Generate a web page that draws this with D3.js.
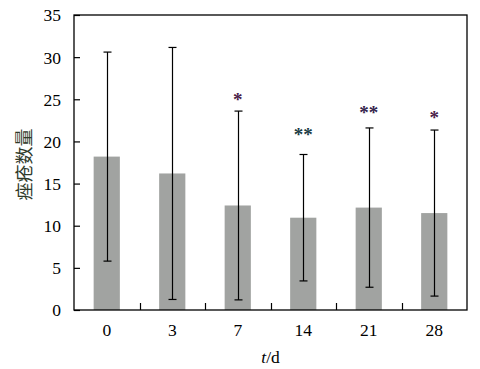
<!DOCTYPE html>
<html>
<head>
<meta charset="utf-8">
<script src="https://cdn.jsdelivr.net/npm/d3@7"></script>
<style>
  html, body { margin: 0; padding: 0; background: #fff; }
  svg { display: block; }
</style>
</head>
<body>
<svg id="chart" width="480" height="369"></svg>
<script>
// ---- data ----
const categories = ["0", "3", "7", "14", "21", "28"];
const means = [18.2, 16.2, 12.4, 10.95, 12.15, 11.5];
const sds = [12.4, 14.95, 11.2, 7.5, 9.45, 9.85];
const sigLabels = ["", "", "*", "**", "**", "*"];
const sigY = [null, null, 25.4, 21.2, 23.8, 23.2];
const sigColors = ["#000", "#000", "#4a1c48", "#1a3c45", "#34244c", "#4a1c48"];
const yTicks = [0, 5, 10, 15, 20, 25, 30, 35];
const yLabel = "痤疮数量";

// ---- layout ----
const svg = d3.select("#chart");
const m = { left: 74, right: 13, top: 15, bottom: 59 };
const W = 480, H = 369;
const x0 = m.left, x1 = W - m.right, yTop = m.top, yBot = H - m.bottom;

const x = d3.scaleBand().domain(categories).range([x0, x1]).paddingInner(0).paddingOuter(0);
const y = d3.scaleLinear().domain([0, 35]).range([yBot, yTop]);
const barW = x.bandwidth() * 0.4;
const font = "'Liberation Serif', 'Times New Roman', serif";

// bars
svg.append("g").selectAll("rect").data(categories).join("rect")
  .attr("x", (d) => x(d) + x.bandwidth() / 2 - barW / 2)
  .attr("y", (d, i) => y(means[i]))
  .attr("width", barW)
  .attr("height", (d, i) => y(0) - y(means[i]))
  .attr("fill", "#a1a3a1");

// error bars
const eb = svg.append("g").attr("stroke", "#000").attr("stroke-width", 1.2);
categories.forEach((c, i) => {
  const cx = Math.round(x(c) + x.bandwidth() / 2) + 0.5;
  const hi = y(means[i] + sds[i]), lo = y(means[i] - sds[i]);
  eb.append("line").attr("x1", cx).attr("x2", cx).attr("y1", hi).attr("y2", lo);
  eb.append("line").attr("x1", cx - 4).attr("x2", cx + 4).attr("y1", hi).attr("y2", hi);
  eb.append("line").attr("x1", cx - 4).attr("x2", cx + 4).attr("y1", lo).attr("y2", lo);
});

// significance stars
svg.append("g").selectAll("text").data(categories).join("text")
  .attr("x", (d) => x(d) + x.bandwidth() / 2)
  .attr("y", (d, i) => sigY[i] == null ? 0 : y(sigY[i]) + 10)
  .attr("text-anchor", "middle")
  .attr("font-family", font)
  .attr("font-size", 19)
  .attr("font-weight", "bold")
  .attr("fill", (d, i) => sigColors[i])
  .text((d, i) => sigLabels[i]);

// y axis (ticks inward)
const yAxis = d3.axisLeft(y).tickValues(yTicks).tickSize(-6).tickPadding(13);
const gy = svg.append("g").attr("transform", `translate(${x0},0)`).call(yAxis);
gy.select(".domain").remove();
gy.selectAll(".tick line").attr("stroke", "#000").attr("stroke-width", 1.2);
gy.selectAll(".tick text").attr("font-family", font).attr("font-size", 17.5).attr("fill", "#000")
  .attr("dy", "0.34em");

// x axis labels
const xAxis = d3.axisBottom(x).tickSize(0).tickPadding(14);
const gx = svg.append("g").attr("transform", `translate(0,${yBot})`).call(xAxis);
gx.select(".domain").remove();
gx.selectAll(".tick text").attr("font-family", font).attr("font-size", 17.5).attr("fill", "#000");

// x inner ticks at band boundaries (inward)
svg.append("g").selectAll("line").data(categories.slice(1)).join("line")
  .attr("x1", (d) => Math.round(x(d)) + 0.5)
  .attr("x2", (d) => Math.round(x(d)) + 0.5)
  .attr("y1", yBot).attr("y2", yBot - 7)
  .attr("stroke", "#000").attr("stroke-width", 1.2);

// frame
svg.append("rect")
  .attr("x", x0).attr("y", yTop)
  .attr("width", x1 - x0).attr("height", yBot - yTop)
  .attr("fill", "none").attr("stroke", "#000").attr("stroke-width", 1.3);

// x axis title: t/d
const xt = svg.append("text")
  .attr("x", (x0 + x1) / 2).attr("y", 363)
  .attr("text-anchor", "middle")
  .attr("font-family", font).attr("font-size", 17.5).attr("fill", "#000");
xt.append("tspan").attr("font-style", "italic").text("t");
xt.append("tspan").text("/d");

// y axis title
svg.append("text")
  .attr("transform", `translate(31,${(yTop + yBot) / 2 + 2}) rotate(-90)`)
  .attr("text-anchor", "middle")
  .attr("font-family", "'Noto Sans CJK SC', sans-serif")
  .attr("font-size", 18)
  .attr("fill", "#2f3a2a")
  .text(yLabel);
</script>
</body>
</html>
